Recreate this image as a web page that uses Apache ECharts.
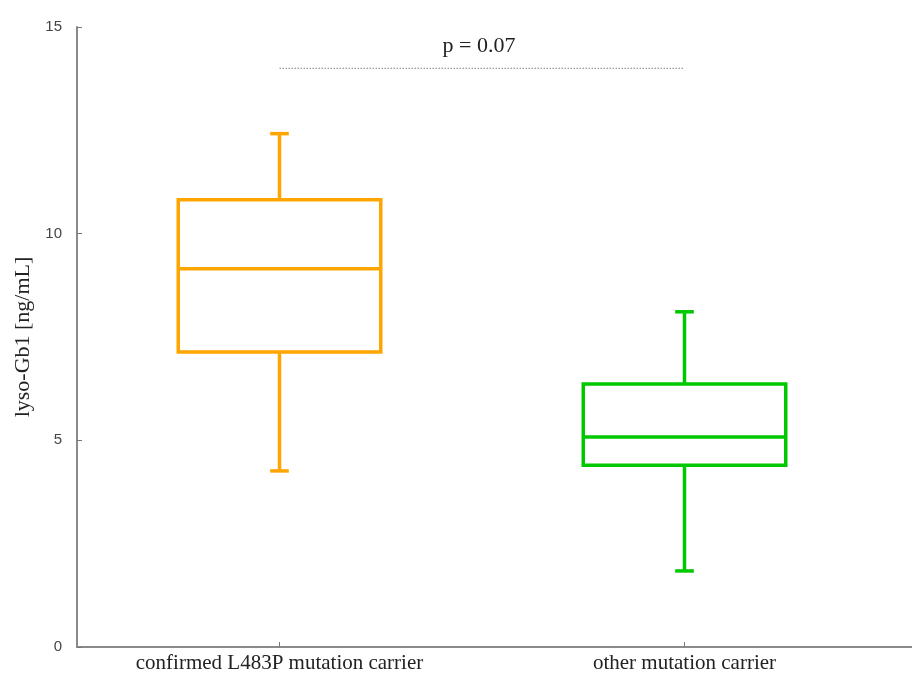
<!DOCTYPE html>
<html>
<head>
<meta charset="utf-8">
<style>
  html, body { margin: 0; padding: 0; background: #fff; }
  #chart { width: 912px; height: 673px; }
</style>
<script src="https://cdn.jsdelivr.net/npm/echarts@6/dist/echarts.min.js"></script>
</head>
<body>
<div id="chart"></div>
<script>
// Groups on the x axis
const categories = ['confirmed L483P mutation carrier', 'other mutation carrier'];
// Five-number summaries: [min, Q1, median, Q3, max] in ng/mL
const groupStats = [
  [4.26, 7.14, 9.15, 10.82, 12.42],
  [1.84, 4.40, 5.08, 6.36, 8.11]
];
const groupColors = ['#FFA500', '#00C800'];
// Comparison bracket between the two groups
const pValueText = 'p = 0.07';
const bracketLevel = 14;
// Y axis ticks
const yMin = 0, yMax = 15, yStep = 5;

const chart = echarts.init(document.getElementById('chart'));

const boxData = groupStats.map((s, i) => [i].concat(s));

function renderBox(params, api) {
  const idx = api.value(0);
  const color = groupColors[idx];
  const band = api.size([1, 0])[0];
  const half = band * 0.25;
  const cap = band * 0.023;
  const pMin = api.coord([idx, api.value(1)]);
  const pQ1 = api.coord([idx, api.value(2)]);
  const pMed = api.coord([idx, api.value(3)]);
  const pQ3 = api.coord([idx, api.value(4)]);
  const pMax = api.coord([idx, api.value(5)]);
  const cx = pMed[0];
  const st = { stroke: color, lineWidth: 3.5, fill: null };
  const line = (x1, y1, x2, y2) => ({ type: 'line', shape: { x1, y1, x2, y2 }, style: st });
  return {
    type: 'group',
    children: [
      { type: 'rect', shape: { x: cx - half, y: pQ3[1], width: half * 2, height: pQ1[1] - pQ3[1] }, style: st },
      line(cx - half, pMed[1], cx + half, pMed[1]),
      line(cx, pQ3[1], cx, pMax[1]),
      line(cx, pQ1[1], cx, pMin[1]),
      line(cx - cap, pMax[1], cx + cap, pMax[1]),
      line(cx - cap, pMin[1], cx + cap, pMin[1])
    ]
  };
}

function renderBracket(params, api) {
  const a = api.coord([0, bracketLevel]);
  const b = api.coord([1, bracketLevel]);
  return {
    type: 'group',
    children: [
      { type: 'line', shape: { x1: a[0], y1: a[1], x2: b[0], y2: b[1] },
        style: { stroke: '#9a9a9a', lineWidth: 1.2, lineDash: [1.5, 1.5] } },
      { type: 'text', x: (a[0] + b[0]) / 2 - 3, y: a[1] - 22,
        style: { text: pValueText, fill: '#222', font: '22px "Liberation Serif", serif',
                 textAlign: 'center', textVerticalAlign: 'middle' } }
    ]
  };
}

chart.setOption({
  animation: false,
  backgroundColor: '#ffffff',
  grid: { left: 77, right: 25, top: 27, bottom: 26, containLabel: false, outerBoundsMode: 'none' },
  xAxis: {
    type: 'category',
    data: categories,
    boundaryGap: true,
    axisLine: { lineStyle: { color: '#8a8a8a', width: 2 } },
    axisTick: { show: true, inside: true, length: 5, alignWithLabel: true, lineStyle: { color: '#777', width: 1 } },
    axisLabel: { color: '#222', fontFamily: 'Liberation Serif', fontSize: 21, margin: 6 },
    splitLine: { show: false }
  },
  yAxis: {
    type: 'value',
    min: yMin, max: yMax, interval: yStep,
    name: 'lyso-Gb1 [ng/mL]',
    nameLocation: 'middle',
    nameGap: 41,
    nameTextStyle: { color: '#222', fontFamily: 'Liberation Serif', fontSize: 22 },
    axisLine: { show: true, lineStyle: { color: '#8a8a8a', width: 2 } },
    axisTick: { show: true, inside: true, length: 5, lineStyle: { color: '#777', width: 1 } },
    axisLabel: { color: '#444', fontFamily: 'Liberation Sans', fontSize: 15, margin: 15 },
    splitLine: { show: false }
  },
  series: [
    { type: 'custom', renderItem: renderBox, data: boxData, encode: { x: 0, y: [1, 2, 3, 4, 5] }, z: 3 },
    { type: 'custom', renderItem: renderBracket, data: [[0, bracketLevel]], encode: { x: 0, y: 1 }, z: 2 }
  ]
});

// Extend the baseline to the right edge of the canvas
const base = chart.convertToPixel({ gridIndex: 0 }, [1, 0]);
const rightEdge = chart.getWidth() - 25;
chart.setOption({
  graphic: [{ type: 'line', shape: { x1: rightEdge, y1: base[1], x2: chart.getWidth(), y2: base[1] },
              style: { stroke: '#8a8a8a', lineWidth: 2 } }]
});
</script>
</body>
</html>
